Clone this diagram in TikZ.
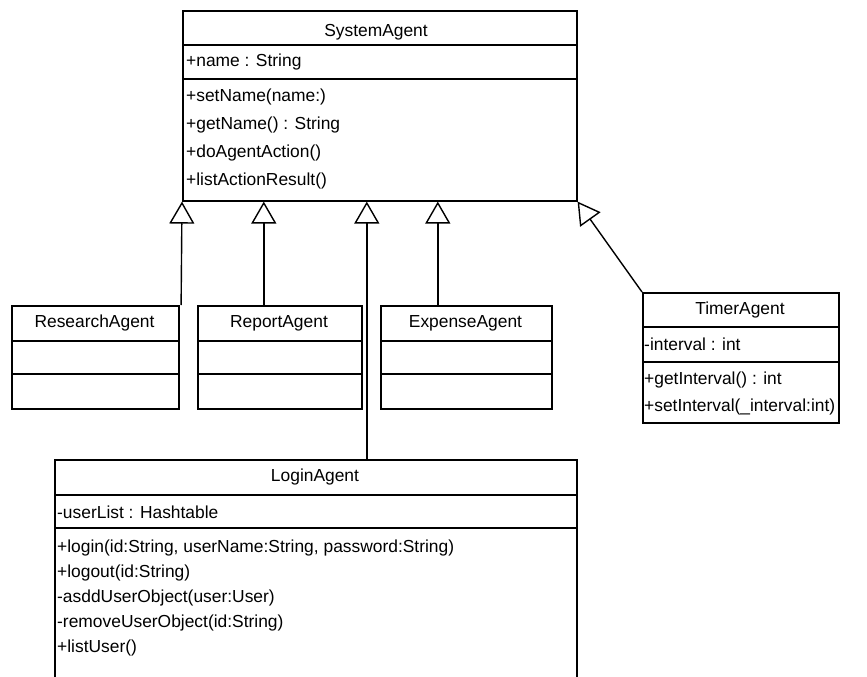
\documentclass[tikz,border=0pt]{standalone}
\usepackage{fontspec}
\setmainfont{Liberation Sans}
\usetikzlibrary{arrows.meta}
\begin{document}
\begin{tikzpicture}[x=1pt,y=-1pt,
  classbox/.style={draw, line width=1.6pt, inner sep=0pt, anchor=north west},
  sepline/.style={line width=1.4pt},
  ctitle/.style={font=\fontsize{17.4}{19}\selectfont, anchor=center, inner sep=0pt},
  member/.style={font=\fontsize{17.4}{19}\selectfont, anchor=west, inner sep=0pt},
  inherit/.style={line width=1.4pt, -{Triangle[open, length=22pt, width=25pt, line width=1.4pt]}}
]
\useasboundingbox (0,0) rectangle (867,677);
\clip (0,0) rectangle (867,677);

% SystemAgent
\node[classbox, minimum width=394pt, minimum height=190pt] (sys) at (182,10) {};
\draw[sepline] (182,45) -- (576,45);
\draw[sepline] (182,79) -- (576,79);
\node[ctitle] (sysT) at (376,32) {SystemAgent};
\node[member] (sysA1) at (186,62) {+name : String};
\node[member] (sysM1) at (186,97) {+setName(name:)};
\node[member] (sysM2) at (186,125) {+getName() : String};
\node[member] (sysM3) at (186,153) {+doAgentAction()};
\node[member] (sysM4) at (186,181) {+listActionResult()};

% ResearchAgent
\node[classbox, minimum width=167pt, minimum height=103pt] (research) at (11,305) {};
\draw[sepline] (11,341) -- (178,341);
\draw[sepline] (11,374) -- (178,374);
\node[ctitle] (researchT) at (94.5,323) {ResearchAgent};

% ReportAgent
\node[classbox, minimum width=164pt, minimum height=103pt] (report) at (197,305) {};
\draw[sepline] (197,341) -- (361,341);
\draw[sepline] (197,374) -- (361,374);
\node[ctitle] (reportT) at (279,323) {ReportAgent};

% ExpenseAgent
\node[classbox, minimum width=171pt, minimum height=103pt] (expense) at (380,305) {};
\draw[sepline] (380,341) -- (551,341);
\draw[sepline] (380,374) -- (551,374);
\node[ctitle] (expenseT) at (465.5,323) {ExpenseAgent};

% TimerAgent
\node[classbox, minimum width=196pt, minimum height=130pt] (timer) at (642,292) {};
\draw[sepline] (642,327) -- (838,327);
\draw[sepline] (642,362) -- (838,362);
\node[ctitle] (timerT) at (740,310) {TimerAgent};
\node[member] (timerA1) at (644,344) {-interval : int};
\node[member] (timerM1) at (644,380) {+getInterval() : int};
\node[member] (timerM2) at (644,407) {+setInterval(\_interval:int)};

% LoginAgent
\node[classbox, minimum width=522pt, minimum height=240pt] (login) at (54,459) {};
\draw[sepline] (54,495) -- (576,495);
\draw[sepline] (54,528) -- (576,528);
\node[ctitle] (loginT) at (315,477) {LoginAgent};
\node[member] (loginA1) at (57,512) {-userList : Hashtable};
\node[member] (loginM1) at (57,548) {+login(id:String, userName:String, password:String)};
\node[member] (loginM2) at (57,573) {+logout(id:String)};
\node[member] (loginM3) at (57,598) {-asddUserObject(user:User)};
\node[member] (loginM4) at (57,623) {-removeUserObject(id:String)};
\node[member] (loginM5) at (57,648) {+listUser()};

% generalisations
\draw[inherit] ([xshift=1.5pt]research.north east) -- (sys.south west);
\draw[inherit] ([xshift=-16pt]report.north) -- ([xshift=-16pt]report.north |- sys.south);
\draw[inherit] ([xshift=51pt]login.north) -- ([xshift=51pt]login.north |- sys.south);
\draw[inherit] ([xshift=-28.5pt]expense.north) -- ([xshift=-28.5pt]expense.north |- sys.south);
\draw[inherit] (timer.north west) -- (sys.south east);
\end{tikzpicture}
\end{document}
